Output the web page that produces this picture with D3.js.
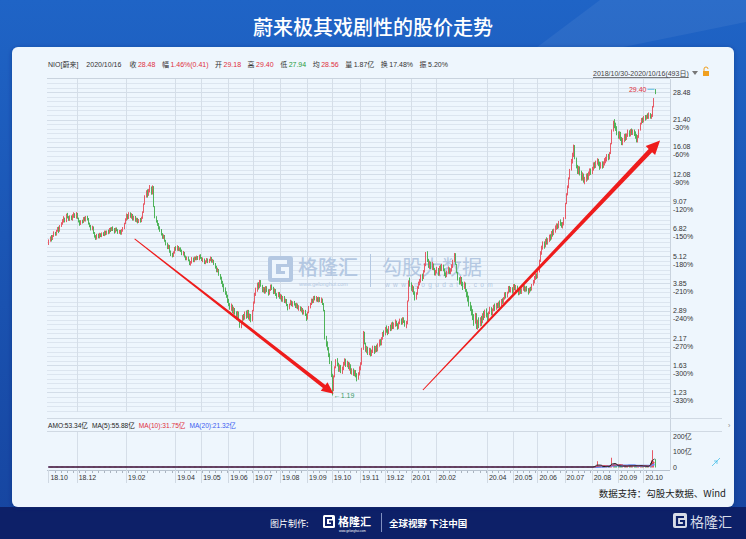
<!DOCTYPE html>
<html><head><meta charset="utf-8">
<script src="https://cdn.jsdelivr.net/npm/d3@7/dist/d3.min.js"></script>
<style>
html,body{margin:0;padding:0;background:#1b5cbf;}
svg{display:block;font-family:"Noto Sans CJK SC","Noto Sans",sans-serif;}
.sm{font-family:"Liberation Sans","Noto Sans CJK SC",sans-serif;}
</style></head><body>
<svg id="c" width="746" height="539"></svg>
<script>
// ---------------- DATA ----------------
const title = "蔚来极其戏剧性的股价走势";
const monthLabels = ["18.10","18.12","19.02","19.04","19.05","19.06","19.07","19.08","19.09","19.10","19.11","19.12","20.01","20.02","20.04","20.05","20.06","20.07","20.08","20.09","20.10"];
const monthStartIndex = [0,23,63,103,124,146,166,188,210,230,253,273,294,315,356,377,397,419,441,462,483];
const yTickValues = [28.48,21.40,16.08,12.08,9.07,6.82,5.12,3.85,2.89,2.17,1.63,1.23];
const yTickPct = ["","-30%","-60%","-90%","-120%","-150%","-180%","-210%","-240%","-270%","-300%","-330%"];
const volTickValues = [200,100,0];
const volTickLabels = ["200亿","100亿","0"];
const firstOpen = 5.85;
// daily closes (USD)
const closes = [
6.00,6.25,6.10,6.35,6.55,6.40,6.70,6.85,6.65,7.05,
7.20,7.45,7.60,7.35,7.95,7.70,7.50,7.75,7.55,7.80,
7.95,7.70,8.00,7.60,7.35,7.15,7.40,7.30,7.65,7.45,
7.70,7.55,7.20,7.00,6.80,6.95,6.50,6.30,6.15,6.40,
6.25,6.45,6.30,6.50,6.40,6.60,6.45,6.65,6.55,6.80,
6.70,6.90,6.75,6.60,6.85,6.70,6.55,6.65,6.50,6.70,
6.85,7.20,7.55,7.85,7.60,8.05,7.70,7.90,7.50,7.75,
7.40,7.55,7.30,7.50,7.40,7.65,8.10,8.85,9.60,10.05,
9.70,10.30,10.45,9.90,10.60,8.60,7.65,7.40,7.10,6.90,
6.70,6.45,6.20,6.35,6.00,5.80,5.60,5.70,5.35,5.20,
5.15,5.30,5.60,5.50,5.65,5.45,5.55,5.40,5.25,5.30,
5.10,4.95,5.05,4.90,4.70,4.80,5.00,4.85,5.05,4.95,
5.10,4.95,5.15,5.05,4.90,4.95,4.75,4.85,4.95,4.80,
4.95,5.00,4.85,4.90,4.70,4.55,4.40,4.45,4.20,4.05,
3.90,3.75,3.60,3.50,3.35,3.20,3.10,2.95,3.05,2.85,
2.95,2.80,2.70,2.85,2.60,2.45,2.55,2.75,2.65,2.85,
2.70,2.90,2.65,2.75,2.60,2.90,3.15,3.45,3.60,3.80,
3.70,3.95,3.75,3.55,3.65,3.50,3.70,3.55,3.45,3.60,
3.75,3.65,3.50,3.60,3.40,3.35,3.50,3.30,3.40,3.20,
3.35,3.15,3.25,3.05,2.95,3.10,3.20,3.05,3.15,3.10,
3.00,3.10,2.95,3.00,2.90,2.95,2.80,2.90,2.75,2.65,
2.85,3.00,3.10,3.25,3.15,3.35,3.25,3.30,3.20,3.30,
3.20,3.25,3.10,2.90,2.15,2.05,1.95,1.80,1.70,1.45,
1.26,1.45,1.60,1.72,1.65,1.55,1.62,1.52,1.58,1.66,
1.72,1.63,1.68,1.58,1.64,1.50,1.56,1.48,1.53,1.46,
1.42,1.50,1.58,1.65,1.95,2.30,2.05,1.90,1.95,1.85,
1.92,1.82,1.90,1.96,1.88,1.98,1.92,2.02,2.10,2.05,
2.15,2.30,2.25,2.42,2.35,2.28,2.45,2.38,2.52,2.44,
2.50,2.58,2.48,2.42,2.55,2.62,2.54,2.66,2.58,2.48,
2.52,3.20,3.95,3.85,3.60,3.70,3.45,3.30,3.45,3.70,
3.85,3.95,4.15,4.05,4.40,4.65,5.30,4.90,4.60,4.75,
4.55,4.70,4.45,4.25,4.35,4.50,4.20,4.60,4.45,4.65,
4.40,4.25,4.15,4.35,4.50,4.30,4.45,4.60,4.85,5.25,
4.70,4.30,4.00,3.90,4.05,3.80,3.70,3.85,3.55,3.40,
3.30,3.10,2.95,2.85,2.70,2.55,2.80,2.40,2.60,2.50,
2.65,2.55,2.80,2.70,2.90,2.75,2.62,2.85,2.95,2.80,
2.90,3.05,2.95,3.10,3.00,3.15,3.05,3.25,3.15,3.30,
3.45,3.35,3.50,3.70,3.55,3.65,3.50,3.80,3.60,3.72,
3.58,3.45,3.60,3.48,3.62,3.75,3.55,3.70,3.58,3.50,
3.65,3.60,3.80,3.95,4.05,4.20,4.10,4.35,4.90,5.30,
5.60,5.85,5.65,6.10,5.90,6.05,6.30,6.15,6.60,6.45,
6.75,6.85,7.10,6.90,7.35,7.20,7.00,7.15,7.60,8.90,
9.80,10.60,11.50,12.70,14.00,14.60,16.30,14.20,13.00,12.40,
12.80,12.20,11.60,12.00,11.20,11.40,11.90,11.60,12.20,12.50,
12.30,12.80,13.40,13.10,13.70,13.90,13.40,13.00,13.50,13.10,
13.60,13.90,14.10,14.60,14.30,15.00,16.60,19.20,20.80,20.20,
19.50,18.60,17.80,18.50,17.40,16.80,17.20,18.10,17.50,18.30,
18.80,18.20,19.10,18.60,18.90,18.40,18.00,17.20,17.80,19.20,
20.60,21.50,21.00,22.00,21.60,22.30,22.10,22.50,22.00,22.20,
24.50,26.60,28.48
];
// daily high-low range, % (read from candle heights)
const rangePct = [
6,5,7,5,6,4,6,5,7,6, 5,6,7,5,8,6,5,6,5,7, 6,5,7,6,5,6,5,4,6,5, 6,5,7,5,6,5,7,6,5,6,
5,6,4,5,4,6,5,4,5,6, 5,4,5,6,5,4,5,4,5,6, 5,7,6,8,6,7,5,6,7,5, 6,5,6,4,5,6,8,9,10,8,
9,7,8,9,10,15,9,7,6,7, 6,7,6,5,7,6,7,5,8,6, 5,6,7,5,6,5,4,5,6,5, 6,5,4,5,6,5,7,5,6,4,
5,4,6,5,4,5,6,4,5,5, 4,5,6,4,5,6,7,5,7,6, 8,7,9,8,7,9,8,7,8,9, 8,7,9,8,10,9,8,9,7,8,
9,8,7,8,9,10,11,12,9,10, 8,9,7,8,6,7,8,6,7,6, 7,6,8,6,7,6,5,7,6,7, 6,7,5,6,7,5,6,5,6,5,
5,6,5,6,5,6,7,5,6,8, 7,8,6,7,5,6,5,6,5,6, 5,6,7,9,18,12,10,11,12,15, 22,18,12,10,9,10,8,9,8,9,
8,9,7,8,9,8,7,8,7,8, 9,8,10,9,18,22,14,10,8,9, 8,9,7,8,9,7,8,9,8,7, 9,8,7,9,8,7,8,7,9,8,
7,8,6,7,8,6,7,8,6,7, 8,25,18,10,9,8,9,10,8,9, 8,7,9,8,9,10,16,12,10,9, 8,9,7,8,6,7,8,9,7,8,
7,8,6,7,8,7,6,8,9,10, 11,10,9,8,9,10,9,8,10,9, 11,12,10,11,12,13,12,14,11,12, 10,11,9,10,9,10,11,9,8,9,
8,7,8,7,6,7,8,7,6,7, 8,7,6,8,7,6,7,8,6,7, 6,7,6,5,6,7,6,5,6,7, 6,5,7,6,8,7,6,8,14,12,
10,9,8,9,8,7,8,7,9,8, 7,8,7,6,8,7,6,7,9,16, 12,11,12,10,13,12,14,13,12,10, 9,10,11,9,10,8,9,8,9,8,
7,8,9,7,8,7,8,9,7,8, 7,8,7,8,7,8,12,15,12,10, 9,10,8,9,10,9,8,9,8,7, 8,7,8,7,6,7,8,9,8,9,
8,7,6,7,6,5,6,7,6,5, 12,10,5
];
const lastDay = {open:29.18, high:29.40, low:27.94, close:28.48};
const minLow = {index:230, value:1.19};
const volumeStartIndex = 440;
const volume = [
4.2,5.1,6.3,8.0,12.5,40.0,9.5,7.2,6.8,6.1,
5.5,6.0,7.4,6.9,8.2,9.0,14.5,62.0,22.0,15.0,
11.5,9.8,10.6,8.9,9.4,8.1,7.6,9.9,10.7,8.8,
9.2,10.1,11.3,
12.0,10.5,9.8,11.2,10.4,13.5,9.6,10.8,11.1,10.0,
7.2,8.5,6.9,7.8,7.7,
30.0,46.0,110.0,40.06,53.34
];
// [text, colour, kind] kind: n=name, l=label, v=value
const infoItems = [
  ["NIO[蔚来]","#333","n"],["2020/10/16","#333","n"],
  ["收","#333","l"],["28.48","#e0303c","v"],["幅","#333","l"],["1.46%(0.41)","#e0303c","v"],
  ["开","#333","l"],["29.18","#e0303c","v"],["高","#333","l"],["29.40","#e0303c","v"],
  ["低","#333","l"],["27.94","#1f9a3a","v"],["均","#333","l"],["28.56","#e0303c","v"],
  ["量","#333","l"],["1.87亿","#333","v"],["换","#333","l"],["17.48%","#333","v"],["振","#333","l"],["5.20%","#333","v"]
];
const amoItems = [["AMO:53.34亿","#222"],["MA(5):55.88亿","#222"],["MA(10):31.75亿","#e0303c"],["MA(20):21.32亿","#3a5cf0"]];
const dateRange = "2018/10/30-2020/10/16(493日)";
const source = "数据支持：勾股大数据、Wind";
// annotation arrows (data space: [index, price])
const arrows = [
  {from:[70,6.13], to:[231.5,1.21], w:2.0, hl:12, hw:5.5},
  {from:[304,1.26], to:[496.5,17.2], w:2.4, hl:14, hw:6.5}
];

// ---------------- DRAW ----------------
const svg = d3.select("#c");
const defs = svg.append("defs");
const bg = defs.append("linearGradient").attr("id","bg").attr("x1",0).attr("y1",0).attr("x2",0).attr("y2",1);
bg.append("stop").attr("offset","0%").attr("stop-color","#1f64c6");
bg.append("stop").attr("offset","100%").attr("stop-color","#16449f");
svg.append("rect").attr("width",746).attr("height",539).attr("fill","url(#bg)");
svg.append("polygon").attr("points","600,0 746,0 746,22 560,60 520,60").attr("fill","#ffffff").attr("opacity",0.06);
svg.append("rect").attr("x",0).attr("y",507).attr("width",746).attr("height",32).attr("fill","#0d2068");

svg.append("text").attr("x",373).attr("y",35).attr("text-anchor","middle")
  .attr("fill","#fff").attr("font-size",20).attr("font-weight",500).text(title);

// panel
const sh = defs.append("filter").attr("id","sh").attr("x","-5%").attr("y","-5%").attr("width","110%").attr("height","110%");
sh.append("feDropShadow").attr("dx",0).attr("dy",1).attr("stdDeviation",2).attr("flood-color","#0a2a6a").attr("flood-opacity",0.5);
svg.append("rect").attr("x",12).attr("y",47).attr("width",722).attr("height",460).attr("rx",6)
  .attr("fill","#eef6fd").attr("filter","url(#sh)");

const L = 47, R = 670, PT = 79, PB = 412;
const x = d3.scaleLinear().domain([0, closes.length-1]).range([48.4, 654.5]);
const y = d3.scaleLog().domain([yTickValues[yTickValues.length-1], yTickValues[0]]).range([392.3, 92.3]);
const yv = d3.scaleLinear().domain([0, 200]).range([467.5, 436]);

const g = svg.append("g");
// info row (flow layout)
let cx = 48;
infoItems.forEach(d=>{
  const t = g.append("text").attr("class","sm").attr("x",cx).attr("y",66.5).attr("font-size",7).attr("fill",d[1]).text(d[0]);
  const w = t.node().getComputedTextLength();
  cx += w + (d[2]==="n" ? 8 : d[2]==="l" ? 1.5 : 6.5);
});
g.append("line").attr("x1",L).attr("x2",R).attr("y1",PT-0.5).attr("y2",PT-0.5).attr("stroke","#c9d3de");
g.append("text").attr("class","sm").attr("x",593).attr("y",76).attr("font-size",7).attr("fill","#444")
  .attr("text-decoration","underline").text(dateRange);
g.append("path").attr("d","M692,71 L698,71 L695,75 Z").attr("fill","#777");
g.append("rect").attr("x",703).attr("y",71).attr("width",6).attr("height",5).attr("fill","#f0a020");
g.append("path").attr("d","M704,71 v-2 a2,2 0 0 1 4,0").attr("fill","none").attr("stroke","#f0a020");

// horizontal grid
const ratio = yTickValues[1]/yTickValues[0];
const hgrid = [];
for (let k=-4;k<=80;k++){ const v = yTickValues[0]*Math.pow(ratio,k/6); const yy=y(v); if(yy>PT && yy<PB) hgrid.push({v, major:k%6===0}); }
g.selectAll("line.hg").data(hgrid).join("line").attr("class","hg")
  .attr("x1",L).attr("x2",R).attr("y1",d=>Math.round(y(d.v))+0.5).attr("y2",d=>Math.round(y(d.v))+0.5)
  .attr("stroke",d=>d.major?"#d3dde8":"#dce5ef").attr("stroke-width",1);
// vertical grid (main + volume)
g.selectAll("line.vg").data(monthStartIndex.slice(1)).join("line").attr("class","vg")
  .attr("x1",d=>Math.round(x(d))+0.5).attr("x2",d=>Math.round(x(d))+0.5).attr("y1",PT).attr("y2",PB)
  .attr("stroke","#d5dee8");
g.selectAll("line.vg2").data(monthStartIndex.slice(1)).join("line").attr("class","vg2")
  .attr("x1",d=>Math.round(x(d))+0.5).attr("x2",d=>Math.round(x(d))+0.5).attr("y1",432).attr("y2",470)
  .attr("stroke","#d5dee8");
// frame
g.append("line").attr("x1",R+0.5).attr("x2",R+0.5).attr("y1",PT).attr("y2",470).attr("stroke","#c9d3de");
g.append("line").attr("x1",L).attr("x2",722).attr("y1",418.5).attr("y2",418.5).attr("stroke","#d0d9e3");
g.append("line").attr("x1",L).attr("x2",722).attr("y1",431.5).attr("y2",431.5).attr("stroke","#d0d9e3");
g.append("line").attr("x1",L).attr("x2",R).attr("y1",470.5).attr("y2",470.5).attr("stroke","#b8c3cf");

// watermark
const wc = "#b4c8e2";
const wm = g.append("g");
wm.append("rect").attr("x",268).attr("y",256).attr("width",25).attr("height",26).attr("rx",3).attr("fill",wc);
wm.append("path").attr("d","M287,262 H274 V276 H287 V269 H281").attr("fill","none").attr("stroke","#eef6fd").attr("stroke-width",4);
wm.append("text").attr("x",298).attr("y",275).attr("font-size",20).attr("fill",wc).attr("font-weight",500).text("格隆汇");
wm.append("text").attr("class","sm").attr("x",299).attr("y",286).attr("font-size",5.5).attr("fill",wc).text("www.gelonghui.com");
wm.append("line").attr("x1",370.5).attr("x2",370.5).attr("y1",254).attr("y2",287).attr("stroke",wc);
wm.append("text").attr("x",382).attr("y",275).attr("font-size",20).attr("fill",wc).text("勾股大数据");
wm.append("text").attr("class","sm").attr("x",385).attr("y",287).attr("font-size",6.5).attr("fill",wc).attr("letter-spacing",3.4).text("www.gogudata.com");

// candles
const RED = "#e65b67", GREEN = "#4fb35a";
const candles = closes.map((c,i)=>{
  let o = i===0 ? firstOpen : closes[i-1];
  const mid = Math.sqrt(o*c), half = Math.log(1+rangePct[i]/100)/2;
  let hi = Math.max(o,c,mid*Math.exp(half)), lo = Math.min(o,c,mid*Math.exp(-half));
  if (i===closes.length-1){ o = lastDay.open; hi = lastDay.high; lo = lastDay.low; }
  if (i===minLow.index){ lo = minLow.value; }
  return {i,o,c,hi,lo,up:c>=o};
});
g.selectAll("line.wick").data(candles).join("line").attr("class","wick")
  .attr("x1",d=>Math.round(x(d.i))+0.5).attr("x2",d=>Math.round(x(d.i))+0.5)
  .attr("y1",d=>y(d.hi)).attr("y2",d=>y(d.lo))
  .attr("stroke",d=>d.up?RED:GREEN).attr("stroke-width",1);
g.selectAll("rect.body").data(candles).join("rect").attr("class","body")
  .attr("x",d=>Math.round(x(d.i))).attr("width",1)
  .attr("y",d=>y(Math.max(d.o,d.c))-0.5).attr("height",d=>Math.max(1.5,y(Math.min(d.o,d.c))-y(Math.max(d.o,d.c))+1))
  .attr("fill",d=>d.up?RED:GREEN);

// high / low markers
const last = candles[candles.length-1];
g.append("line").attr("x1",x(last.i)-7).attr("x2",x(last.i)).attr("y1",y(lastDay.high)).attr("y2",y(lastDay.high)).attr("stroke","#5bbde0");
g.append("text").attr("class","sm").attr("x",x(last.i)-8).attr("y",y(lastDay.high)+2.5).attr("text-anchor","end").attr("font-size",7).attr("fill","#e0303c").text(lastDay.high.toFixed(2));
g.append("text").attr("class","sm").attr("x",x(minLow.index)+2).attr("y",y(minLow.value)+2.5).attr("font-size",7).attr("fill","#3c9c6a").text("←"+minLow.value.toFixed(2));

// right axis
const ax = g.append("g");
ax.selectAll("text.yv").data(yTickValues).join("text").attr("class","sm")
  .attr("x",R+3).attr("y",d=>y(d)+2.5).attr("font-size",7).attr("fill","#333").text(d=>d.toFixed(2));
ax.selectAll("text.yp").data(yTickPct).join("text").attr("class","sm")
  .attr("x",R+3).attr("y",(d,i)=>y(yTickValues[i])+10.5).attr("font-size",7).attr("fill","#333").text(d=>d);

// arrows
arrows.forEach(a=>{
  const x0=x(a.from[0]), y0=y(a.from[1]), x1=x(a.to[0]), y1=y(a.to[1]);
  const dx=x1-x0, dy=y1-y0, len=Math.hypot(dx,dy), ux=dx/len, uy=dy/len, nx=-uy, ny=ux;
  const w0=0.5, w1=a.w;
  const bx=x1-ux*a.hl, by=y1-uy*a.hl;
  const pts=[[x0+nx*w0,y0+ny*w0],[bx+nx*w1,by+ny*w1],[bx+nx*a.hw,by+ny*a.hw],[x1,y1],[bx-nx*a.hw,by-ny*a.hw],[bx-nx*w1,by-ny*w1],[x0-nx*w0,y0-ny*w0]];
  g.append("polygon").attr("points",pts.map(p=>p.join(",")).join(" ")).attr("fill","#ee1c1c");
});

// AMO row (flow layout)
let ax2 = 48;
amoItems.forEach(d=>{
  const t = g.append("text").attr("class","sm").attr("x",ax2).attr("y",427.5).attr("font-size",6.6).attr("fill",d[1]).text(d[0]);
  ax2 += t.node().getComputedTextLength() + 4;
});
g.append("text").attr("class","sm").attr("x",728).attr("y",428).attr("font-size",7).attr("fill","#888").text("›");

// volume
const vol = closes.map((c,i)=> i>=volumeStartIndex ? volume[i-volumeStartIndex] : 0);
g.selectAll("text.vt").data(volTickValues).join("text").attr("class","sm")
  .attr("x",R+3).attr("y",d=>yv(d)+2.5).attr("font-size",7).attr("fill","#333").text((d,i)=>volTickLabels[i]);
const vd = candles.filter(d=>d.i>=volumeStartIndex);
g.selectAll("rect.vb").data(vd).join("rect").attr("class","vb")
  .attr("x",d=>Math.round(x(d.i))).attr("width",1)
  .attr("y",d=>yv(vol[d.i])).attr("height",d=>yv(0)-yv(vol[d.i]))
  .attr("fill",d=>d.up?RED:GREEN);
function ma(n){ return vol.map((v,i)=>d3.mean(vol.slice(Math.max(0,i-n+1),i+1))); }
const maCols = [[20,"#6b8cf2",2.2],[10,"#e0303c",1],[5,"#222",1]];
maCols.forEach(([n,col,w])=>{
  g.append("path").datum(ma(n)).attr("fill","none").attr("stroke",col).attr("stroke-width",w)
    .attr("d",d3.line().x((d,i)=>x(i)).y(d=>Math.min(yv(d),467)));
});
g.append("path").attr("d","M712,466 l5,-5 m0,0 v3 m0,-3 h-3 M720,458 l-4,4").attr("stroke","#48c0e8").attr("fill","none").attr("stroke-width",0.8);

// x axis
g.selectAll("line.xt").data(d3.range(0,closes.length,5)).join("line").attr("class","xt")
  .attr("x1",d=>Math.round(x(d))+0.5).attr("x2",d=>Math.round(x(d))+0.5).attr("y1",471).attr("y2",473).attr("stroke","#aab4c0");
g.selectAll("line.xm").data(monthStartIndex).join("line").attr("class","xm")
  .attr("x1",d=>Math.round(x(d))+0.5).attr("x2",d=>Math.round(x(d))+0.5).attr("y1",470).attr("y2",483).attr("stroke","#d0d9e3");
g.selectAll("text.xl").data(monthLabels).join("text").attr("class","sm")
  .attr("x",(d,i)=>x(monthStartIndex[i])+2).attr("y",480).attr("font-size",7).attr("fill","#333").text(d=>d);

// source
g.append("text").attr("x",726).attr("y",497).attr("text-anchor","end").attr("font-size",9.5).attr("fill","#222").text(source);

// footer
const f = svg.append("g");
f.append("text").attr("x",270).attr("y",527).attr("font-size",9).attr("fill","#fff").text("图片制作:");
f.append("rect").attr("x",323).attr("y",515).attr("width",12).attr("height",13).attr("rx",1.5).attr("fill","#fff");
f.append("path").attr("d","M332,518 H326 V525 H332 V521.5 H329").attr("fill","none").attr("stroke","#0d2068").attr("stroke-width",2);
f.append("text").attr("x",338).attr("y",525.5).attr("font-size",11).attr("font-weight",700).attr("fill","#fff").text("格隆汇");
f.append("text").attr("class","sm").attr("x",339).attr("y",531.5).attr("font-size",3).attr("fill","#fff").text("www.gelonghui.com");
f.append("line").attr("x1",381.5).attr("x2",381.5).attr("y1",513).attr("y2",532).attr("stroke","#8090c0");
f.append("text").attr("x",389).attr("y",527).attr("font-size",9.5).attr("font-weight",700).attr("fill","#fff").text("全球视野 下注中国");
f.append("rect").attr("x",673).attr("y",513).attr("width",14).attr("height",15).attr("rx",2).attr("fill","#d8dce8");
f.append("path").attr("d","M684,517 H677 V525 H684 V521 H680").attr("fill","none").attr("stroke","#0d2068").attr("stroke-width",2.2);
f.append("text").attr("x",690).attr("y",527).attr("font-size",14).attr("fill","#d8dce8").text("格隆汇");
</script>
</body></html>
